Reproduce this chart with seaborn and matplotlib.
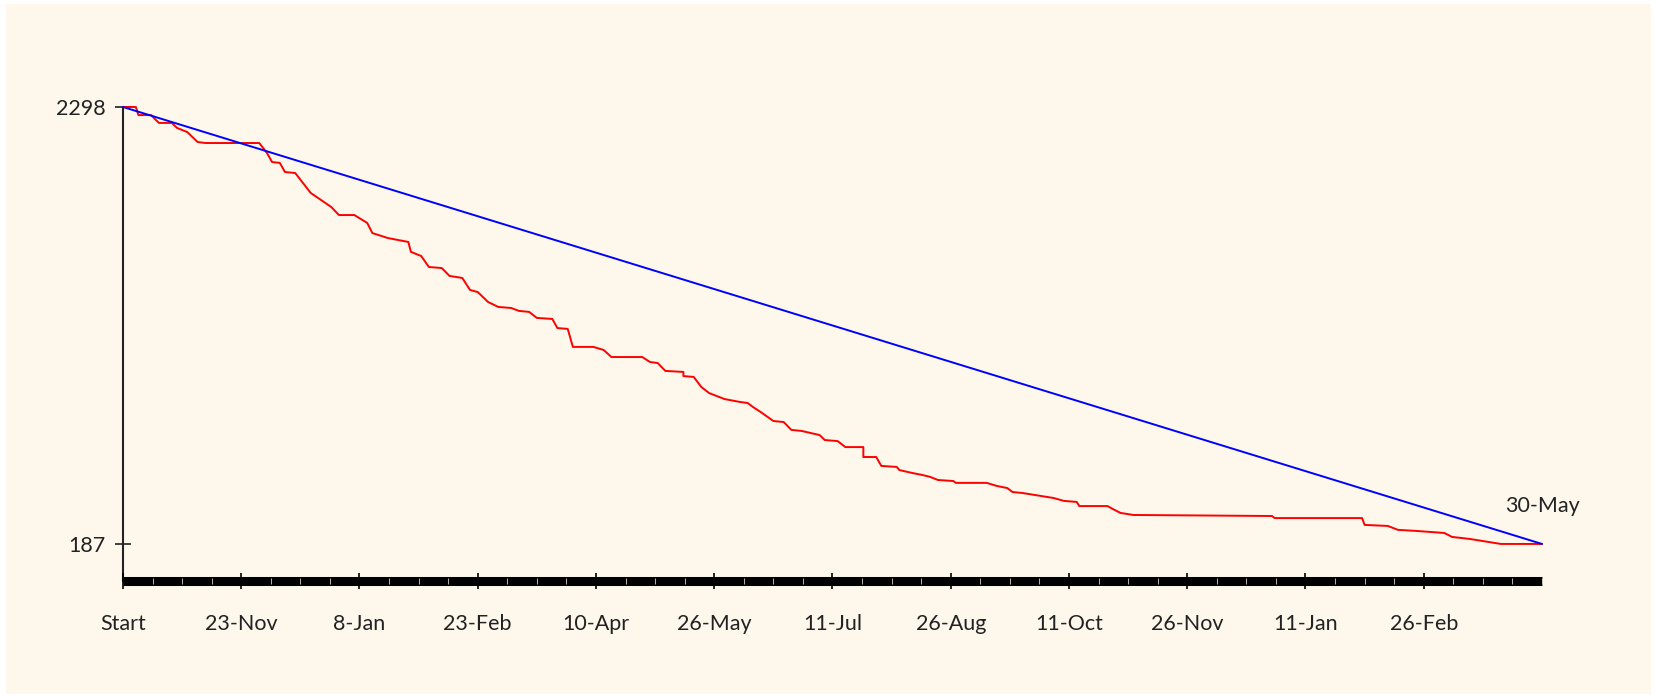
import numpy as np
import pandas as pd
import matplotlib
matplotlib.use('Agg')
import matplotlib.pyplot as plt
from matplotlib.patches import Rectangle
import seaborn as sns

# burndown data: day index since start, remaining items
actual_days = [0, 5, 6, 11, 12, 14, 19, 21, 25, 29, 32, 53, 56, 58, 61, 63, 67, 70, 73, 77,
               81, 84, 90, 95, 97, 103, 111, 112, 116, 119, 124, 127, 132, 135, 138, 142, 146, 151, 154, 158,
               161, 167, 169, 173, 175, 183, 187, 190, 202, 205, 208, 211, 218, 218, 222, 225, 228, 234, 240, 243,
               245, 248, 253, 257, 260, 264, 271, 273, 278, 281, 288, 288, 293, 295, 301, 302, 307, 311, 314, 317,
               323, 324, 336, 340, 344, 346, 350, 357, 362, 366, 371, 372, 383, 385, 388, 393, 447, 448, 482, 483,
               492, 496, 503, 514, 517, 524, 531, 536, 552]
actual_remaining = [2298, 2298, 2259, 2259, 2245, 2221, 2221, 2197, 2177, 2129, 2124, 2124, 2076, 2032, 2028, 1984, 1979, 1931, 1883, 1849,
                    1815, 1776, 1776, 1738, 1689, 1665, 1646, 1598, 1578, 1525, 1520, 1482, 1472, 1414, 1404, 1356, 1332, 1327, 1313, 1308,
                    1279, 1274, 1230, 1226, 1139, 1139, 1124, 1090, 1090, 1066, 1061, 1023, 1018, 998, 994, 945, 916, 887, 873, 868,
                    849, 825, 781, 776, 738, 733, 713, 689, 684, 655, 655, 607, 607, 564, 559, 544, 530, 520, 511, 496,
                    491, 482, 482, 467, 457, 438, 433, 419, 409, 395, 390, 370, 370, 356, 337, 327, 322, 312, 312, 279,
                    274, 255, 250, 240, 221, 211, 197, 187, 187]

ideal_days = [0, 552]
ideal_remaining = [2298, 187]

tick_days = [0, 46, 92, 138, 184, 230, 276, 322, 368, 414, 460, 506]
tick_labels = ['Start', '23-Nov', '8-Jan', '23-Feb', '10-Apr', '26-May', '11-Jul',
               '26-Aug', '11-Oct', '26-Nov', '11-Jan', '26-Feb']
y_ticks = [187, 2298]
end_label = '30-May'

cream = '#fdf7ec'

sns.set_style('ticks')
plt.rcParams['font.family'] = ['Lato', 'DejaVu Sans']

W, H = 1657, 697
fig = plt.figure(figsize=(W / 100, H / 100), dpi=100, facecolor='white')
fig.patches.append(Rectangle((6 / W, 3 / H), (W - 12) / W, (H - 7) / H,
                             transform=fig.transFigure, facecolor=cream,
                             edgecolor='none', zorder=-1))

ax = fig.add_axes([123 / W, (H - 581) / H, (1542 - 123) / W, (581 - 107) / H])
ax.set_facecolor('none')
ax.set_axisbelow(False)

actual = pd.DataFrame({'day': actual_days, 'remaining': actual_remaining})
ideal = pd.DataFrame({'day': ideal_days, 'remaining': ideal_remaining})

sns.lineplot(data=actual, x='day', y='remaining', color='#ff0000', linewidth=1.4,
             estimator=None, sort=False, ax=ax, clip_on=False, zorder=3)
sns.lineplot(data=ideal, x='day', y='remaining', color='#0000ff', linewidth=1.4,
             estimator=None, sort=False, ax=ax, clip_on=False, zorder=4)

ax.annotate(end_label, xy=(ideal_days[-1], ideal_remaining[-1]), xytext=(0, 27),
            textcoords='offset points', ha='center', va='center', fontsize=15.5,
            color='#222222')

ax.set_xlim(0, 552)
ax.set_ylim(8, 2298)
ax.set_xlabel('')
ax.set_ylabel('')

for s in ['top', 'right']:
    ax.spines[s].set_visible(False)
ax.spines['left'].set_color('#222222')
ax.spines['left'].set_linewidth(1.5)
ax.spines['bottom'].set_color('black')
ax.spines['bottom'].set_linewidth(6.5)
ax.spines['bottom'].set_capstyle('butt')

ax.set_xticks(tick_days)
ax.set_xticklabels(tick_labels)
ax.set_xticks(np.arange(0, 553, 11.5), minor=True)
ax.tick_params(axis='x', which='major', direction='inout', length=12, width=1.2,
               color='black', pad=18, labelsize=15.5, labelcolor='#222222')
ax.tick_params(axis='x', which='minor', direction='inout', length=4.5, width=0.6,
               color='#d8d2c8')

ax.set_yticks(y_ticks)
ax.set_yticklabels([str(v) for v in y_ticks])
ax.tick_params(axis='y', direction='inout', length=11.5, width=1.2, color='#222222',
               pad=7, labelsize=15.5, labelcolor='#222222')

fig.savefig('out.png', dpi=100, facecolor='white')
